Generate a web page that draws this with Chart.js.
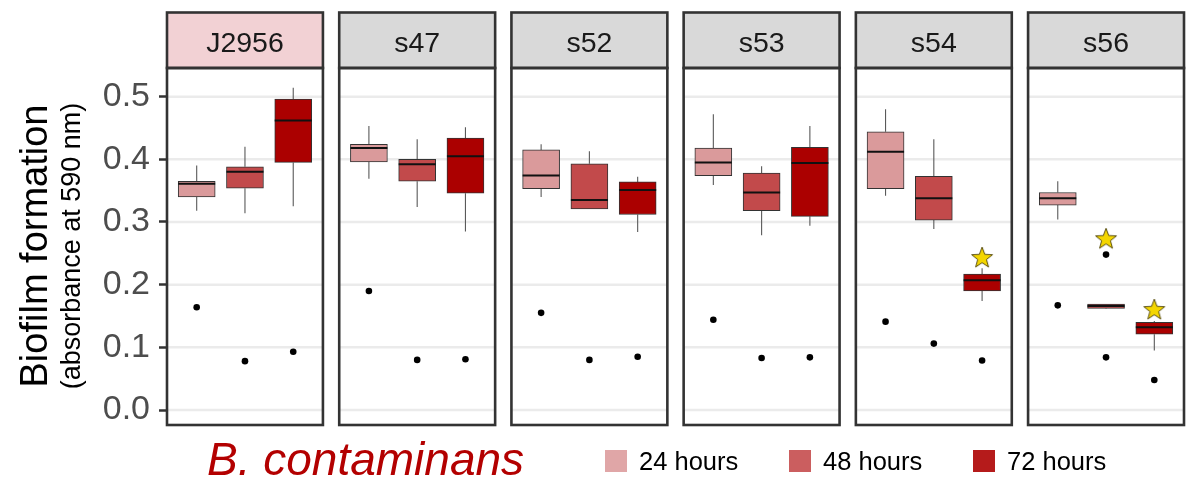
<!DOCTYPE html>
<html>
<head>
<meta charset="utf-8">
<script src="https://cdn.jsdelivr.net/npm/chart.js@4.4.1/dist/chart.umd.min.js"></script>
<style>
  html, body { margin: 0; padding: 0; background: #ffffff; }
  #wrap { width: 1196px; height: 478px; }
</style>
</head>
<body>
<div id="wrap"><canvas id="chart" width="1196" height="478"></canvas></div>
<script>
// Strains (one facet each) and sampling times (one box per time in every facet)
const strains = ['J2956', 's47', 's52', 's53', 's54', 's56'];
const timePoints = ['24 hours', '48 hours', '72 hours'];
const yTicks = [0, 0.1, 0.2, 0.3, 0.4, 0.5];

// 24 hours: whisker ends, quartiles, medians and outliers per strain
const low24  = [0.318, 0.369, 0.340, 0.359, 0.342, 0.304];
const q1_24  = [0.340, 0.396, 0.353, 0.374, 0.353, 0.327];
const med24  = [0.361, 0.418, 0.374, 0.395, 0.412, 0.338];
const q3_24  = [0.365, 0.424, 0.415, 0.418, 0.444, 0.347];
const high24 = [0.390, 0.453, 0.424, 0.472, 0.480, 0.365];
const out24  = [[0.164], [0.190], [0.155], [0.144], [0.141], [0.167]];

// 48 hours
const low48  = [0.314, 0.324, 0.321, 0.279, 0.289, 0.161];
const q1_48  = [0.354, 0.365, 0.321, 0.318, 0.303, 0.162];
const med48  = [0.380, 0.392, 0.335, 0.347, 0.338, 0.166];
const q3_48  = [0.388, 0.400, 0.393, 0.378, 0.373, 0.169];
const high48 = [0.420, 0.432, 0.413, 0.389, 0.432, 0.169];
const out48  = [[0.078], [0.080], [0.080], [0.083], [0.106], [0.248, 0.084]];

// 72 hours
const low72  = [0.325, 0.285, 0.284, 0.294, 0.174, 0.095];
const q1_72  = [0.395, 0.346, 0.312, 0.309, 0.190, 0.121];
const med72  = [0.462, 0.405, 0.351, 0.394, 0.207, 0.132];
const q3_72  = [0.496, 0.434, 0.364, 0.419, 0.217, 0.140];
const high72 = [0.514, 0.451, 0.372, 0.453, 0.226, 0.142];
const out72  = [[0.093], [0.081], [0.085], [0.084], [0.079], [0.048]];

// Significance markers (star above the box)
const starStrain = ['s54', 's56', 's56'];
const starTime   = ['72 hours', '48 hours', '72 hours'];
const starValue  = [0.244, 0.274, 0.161];

// ---- styling / geometry ----
const FONT = "'Liberation Sans', Arial, Helvetica, sans-serif";
const boxFill    = ['#DA9A9B', '#C24A4B', '#AB0000'];
const legendFill = ['#E0A6A7', '#CB5E5F', '#B51B1B'];
const highlightStrip = { J2956: '#F2D1D4' };
const PANEL_HALF = 0.4527;            // half panel width in x units
const DODGE = [-0.2803, 0, 0.2803];   // box offsets inside a facet
const STRIP_TOP = 12.5;

const series = [
  { lo: low24, q1: q1_24, med: med24, q3: q3_24, hi: high24, out: out24 },
  { lo: low48, q1: q1_48, med: med48, q3: q3_48, hi: high48, out: out48 },
  { lo: low72, q1: q1_72, med: med72, q3: q3_72, hi: high72, out: out72 }
];

// star glyph used as a point style
function makeStar(r) {
  const size = Math.ceil(r * 2 + 4);
  const c = document.createElement('canvas');
  c.width = size; c.height = size;
  const g = c.getContext('2d');
  const cx = size / 2, cy = size / 2 + 1;
  g.beginPath();
  for (let k = 0; k < 10; k++) {
    const rad = k % 2 === 0 ? r : r * 0.42;
    const ang = -Math.PI / 2 + k * Math.PI / 5;
    const px = cx + rad * Math.cos(ang), py = cy + rad * Math.sin(ang);
    if (k === 0) g.moveTo(px, py); else g.lineTo(px, py);
  }
  g.closePath();
  g.fillStyle = '#F4D600';
  g.fill();
  g.lineWidth = 0.9;
  g.strokeStyle = '#4A3E00';
  g.stroke();
  return c;
}
const starImg = makeStar(11);

// ---- datasets ----
const boxDatasets = timePoints.map((label, t) => ({
  type: 'bar',
  label,
  data: strains.map((s, i) => ({ x: i + DODGE[t], y: [series[t].q1[i], series[t].q3[i]] })),
  backgroundColor: boxFill[t],
  borderColor: '#333333',
  borderWidth: 1,
  borderSkipped: false,
  grouped: false,
  barThickness: 37,
  maxBarThickness: 37,
  order: 2
}));

const outlierData = [];
timePoints.forEach((label, t) => {
  strains.forEach((s, i) => {
    series[t].out[i].forEach(v => outlierData.push({ x: i + DODGE[t], y: v }));
  });
});

const starData = starValue.map((v, k) => ({
  x: strains.indexOf(starStrain[k]) + DODGE[timePoints.indexOf(starTime[k])],
  y: v
}));

const datasets = [
  ...boxDatasets,
  {
    type: 'scatter', label: 'outliers', data: outlierData,
    pointRadius: 3.3, pointBackgroundColor: '#000000', pointBorderWidth: 0, order: 1
  },
  {
    type: 'scatter', label: 'significance', data: starData,
    pointStyle: starImg, pointRadius: 11, order: 0
  }
];

// ---- facet drawing: grid, whiskers, medians, frames, strips, titles, legend ----
const facetPlugin = {
  id: 'facets',
  beforeDatasetsDraw(chart) {
    const { ctx, scales: { x, y } } = chart;
    ctx.save();
    ctx.strokeStyle = '#EBEBEB';
    ctx.lineWidth = 2.5;
    strains.forEach((s, p) => {
      const l = x.getPixelForValue(p - PANEL_HALF);
      const r = x.getPixelForValue(p + PANEL_HALF);
      yTicks.forEach(v => {
        const py = y.getPixelForValue(v);
        ctx.beginPath(); ctx.moveTo(l, py); ctx.lineTo(r, py); ctx.stroke();
      });
    });
    ctx.strokeStyle = '#5A5A5A';
    ctx.lineWidth = 1.1;
    series.forEach((ser, t) => {
      strains.forEach((s, i) => {
        const px = x.getPixelForValue(i + DODGE[t]);
        ctx.beginPath();
        ctx.moveTo(px, y.getPixelForValue(ser.q3[i]));
        ctx.lineTo(px, y.getPixelForValue(ser.hi[i]));
        ctx.moveTo(px, y.getPixelForValue(ser.q1[i]));
        ctx.lineTo(px, y.getPixelForValue(ser.lo[i]));
        ctx.stroke();
      });
    });
    ctx.restore();
  },
  afterDatasetsDraw(chart) {
    const { ctx, scales: { y } } = chart;
    ctx.save();
    ctx.strokeStyle = '#111111';
    ctx.lineWidth = 2;
    series.forEach((ser, t) => {
      const meta = chart.getDatasetMeta(t);
      strains.forEach((s, i) => {
        const bar = meta.data[i];
        const py = y.getPixelForValue(ser.med[i]);
        ctx.beginPath();
        ctx.moveTo(bar.x - bar.width / 2, py);
        ctx.lineTo(bar.x + bar.width / 2, py);
        ctx.stroke();
      });
    });
    ctx.restore();
  },
  afterDraw(chart) {
    const { ctx, chartArea: a, scales: { x } } = chart;
    ctx.save();
    strains.forEach((s, p) => {
      const l = x.getPixelForValue(p - PANEL_HALF);
      const r = x.getPixelForValue(p + PANEL_HALF);
      // strip
      ctx.fillStyle = highlightStrip[s] || '#D9D9D9';
      ctx.fillRect(l, STRIP_TOP, r - l, a.top - STRIP_TOP);
      ctx.strokeStyle = '#333333';
      ctx.lineWidth = 2.6;
      ctx.strokeRect(l, STRIP_TOP, r - l, a.top - STRIP_TOP);
      ctx.strokeRect(l, a.top, r - l, a.bottom - a.top);
      ctx.fillStyle = '#1A1A1A';
      ctx.font = `28.5px ${FONT}`;
      ctx.textAlign = 'center';
      ctx.textBaseline = 'alphabetic';
      ctx.fillText(s, (l + r) / 2, 52);
    });

    // y-axis titles
    ctx.fillStyle = '#000000';
    ctx.textAlign = 'center';
    ctx.textBaseline = 'alphabetic';
    ctx.save();
    ctx.translate(47, 246);
    ctx.rotate(-Math.PI / 2);
    ctx.font = `38px ${FONT}`;
    ctx.fillText('Biofilm formation', 0, 0);
    ctx.restore();
    ctx.save();
    ctx.translate(80, 246);
    ctx.rotate(-Math.PI / 2);
    ctx.font = `27px ${FONT}`;
    ctx.fillText('(absorbance at 590 nm)', 0, 0);
    ctx.restore();

    // species name under the facets
    ctx.fillStyle = '#B30000';
    ctx.textAlign = 'left';
    ctx.font = `italic 46px ${FONT}`;
    ctx.fillText('B. contaminans', 207, 475);

    // legend
    const keyX = [605, 789, 973];
    ctx.font = `25.5px ${FONT}`;
    timePoints.forEach((label, t) => {
      ctx.fillStyle = legendFill[t];
      ctx.fillRect(keyX[t], 450, 22, 22);
      ctx.fillStyle = '#000000';
      ctx.fillText(label, keyX[t] + 34, 470);
    });
    ctx.restore();
  }
};

new Chart(document.getElementById('chart'), {
  type: 'bar',
  data: { datasets },
  options: {
    responsive: false,
    animation: false,
    devicePixelRatio: 1,
    layout: { padding: { left: 0, right: 6, top: 68, bottom: 53 } },
    plugins: { legend: { display: false }, tooltip: { enabled: false } },
    scales: {
      x: {
        type: 'linear',
        offset: false,
        min: -PANEL_HALF,
        max: strains.length - 1 + PANEL_HALF,
        grid: { offset: false },
        display: false
      },
      y: {
        type: 'linear',
        min: -0.0239,
        max: 0.5457,
        afterBuildTicks: (scale) => { scale.ticks = yTicks.map(v => ({ value: v })); },
        afterFit: (scale) => { scale.width = 167; },
        ticks: {
          font: { family: FONT, size: 34 },
          color: '#4D4D4D',
          padding: 9,
          callback: (v) => Number(v).toFixed(1)
        },
        grid: {
          drawOnChartArea: false,
          drawTicks: true,
          tickLength: 8,
          tickColor: '#333333',
          tickWidth: 2.5
        },
        border: { display: false }
      }
    }
  },
  plugins: [facetPlugin]
});
</script>
</body>
</html>
